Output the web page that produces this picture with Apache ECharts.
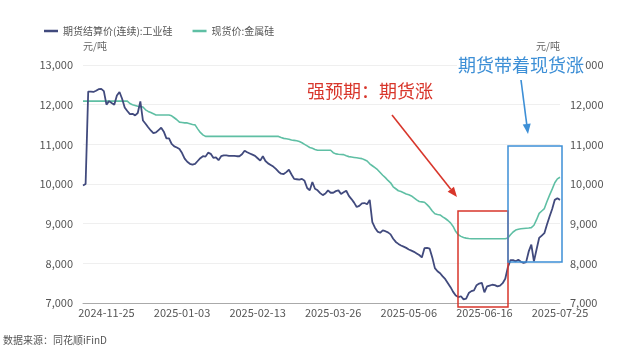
<!DOCTYPE html>
<html><head><meta charset="utf-8">
<script src="https://cdn.jsdelivr.net/npm/echarts@6/dist/echarts.min.js"></script>
<style>html,body{margin:0;padding:0;background:#fff}#c{width:640px;height:351px}</style>
</head><body><div id="c"></div>
<script>
// ---- data ----
const startDate = '2024-11-12';
const endDate = '2025-07-25';
const xTickLabels = ['2024-11-25','2025-01-03','2025-02-13','2025-03-26','2025-05-06','2025-06-16','2025-07-25'];
const futuresName = '期货结算价(连续):工业硅';
const spotName = '现货价:金属硅';
const yUnit = '元/吨';
const sourceText = '数据来源：同花顺iFinD';
const noteRed = '强预期：期货涨';
const noteBlue = '期货带着现货涨';

const futures = [
9960,10000,12330,12330,12320,12350,12390,12400,12340,12000,
12090,12040,12000,12230,12320,12150,11930,11840,11760,11770,
11730,11790,12080,11600,11520,11430,11350,11280,11300,11360,
11420,11320,11150,11150,11010,10950,10920,10880,10780,10640,
10560,10510,10490,10510,10580,10650,10700,10690,10790,10760,
10660,10670,10600,10700,10720,10720,10710,10710,10710,10700,
10700,10750,10840,10800,10770,10740,10710,10650,10590,10700,
10580,10520,10480,10440,10380,10310,10260,10250,10300,10360,
10240,10130,10120,10110,10130,10080,9900,9840,10050,9880,
9840,9770,9720,9760,9840,9780,9780,9820,9840,9750,
9790,9830,9700,9620,9530,9420,9450,9510,9520,9490,
9600,9040,8900,8800,8770,8830,8810,8780,8730,8620,
8540,8490,8450,8420,8390,8350,8320,8290,8250,8210,
8150,8380,8390,8370,8150,7880,7800,7750,7670,7600,
7500,7400,7280,7190,7150,7170,7090,7110,7250,7300,
7320,7450,7490,7510,7270,7420,7440,7460,7450,7420,
7440,7500,7610,7900,8080,8080,8050,8090,8040,8010,
8030,8300,8470,8050,8350,8640,8700,8760,8980,9180,
9370,9600,9640,9600
];
const spot = [
12090,12090,12090,12090,12090,12090,12090,12090,12090,12090,
12090,12090,12090,12090,12090,12090,12090,12090,12030,12000,
11980,11960,11950,11940,11870,11830,11800,11770,11740,11740,
11740,11740,11740,11740,11720,11670,11620,11560,11550,11540,
11540,11520,11500,11490,11390,11300,11240,11200,11200,11200,
11200,11200,11200,11200,11200,11200,11200,11200,11200,11200,
11200,11200,11200,11200,11200,11200,11200,11200,11200,11200,
11200,11200,11200,11200,11200,11200,11170,11150,11140,11130,
11110,11100,11090,11070,11040,11000,10960,10920,10900,10870,
10850,10850,10850,10850,10850,10850,10790,10760,10750,10745,
10740,10710,10690,10680,10670,10660,10650,10640,10610,10580,
10510,10460,10410,10360,10290,10220,10160,10090,10030,9930,
9880,9830,9810,9780,9750,9730,9700,9650,9600,9560,
9550,9540,9480,9410,9320,9250,9230,9220,9170,9130,
9080,9020,8930,8800,8720,8680,8650,8635,8625,8620,
8620,8620,8620,8620,8620,8620,8620,8620,8620,8620,
8620,8620,8620,8640,8720,8790,8840,8860,8870,8880,
8885,8890,8900,8960,9100,9260,9320,9380,9560,9720,
9870,10030,10130,10170
];
const yMin = 7000, yMax = 13000, yStep = 1000;

// ---- helpers ----
function weekdays(a, b) {
  const out = [];
  let d = new Date(a + 'T00:00:00Z');
  const e = new Date(b + 'T00:00:00Z');
  while (d <= e) {
    const w = d.getUTCDay();
    if (w !== 0 && w !== 6) out.push(d.toISOString().slice(0, 10));
    d = new Date(d.getTime() + 86400000);
  }
  return out;
}
const dates = weekdays(startDate, endDate);

function arrow(x1, y1, x2, y2, color) {
  const ang = Math.atan2(y2 - y1, x2 - x1);
  const L = 10, W = 4;
  const bx = x2 - L * Math.cos(ang), by = y2 - L * Math.sin(ang);
  const px = -Math.sin(ang) * W, py = Math.cos(ang) * W;
  return [
    { type: 'line', z: 100, shape: { x1: x1, y1: y1, x2: bx, y2: by }, style: { stroke: color, lineWidth: 1.6 } },
    { type: 'polygon', z: 100, shape: { points: [[x2, y2], [bx + px, by + py], [bx - px, by - py]] }, style: { fill: color } }
  ];
}

const FONT = '"Noto Sans CJK SC", "Noto Sans", sans-serif';
const RED = '#d8362b', BLUE = '#3d8fd6';
const fmt = v => v.toLocaleString('en-US');

const chart = echarts.init(document.getElementById('c'), null, { renderer: 'canvas' });
chart.setOption({
  animation: false,
  backgroundColor: '#fff',
  textStyle: { fontFamily: FONT },
  grid: { left: 83, right: 80, top: 65, bottom: 48 },
  legend: {
    left: 39, top: 21, icon: 'rect', itemWidth: 14, itemHeight: 2.5, itemGap: 20,
    textStyle: { fontSize: 10, color: '#555', fontFamily: FONT },
    data: [futuresName, spotName]
  },
  xAxis: {
    type: 'category', data: dates, boundaryGap: false,
    axisLine: { lineStyle: { color: '#aaa', width: 1 } },
    axisTick: { show: false },
    axisLabel: {
      interval: (i, v) => xTickLabels.includes(v),
      color: '#555', fontSize: 11, margin: 4, fontFamily: FONT
    },
    splitLine: { show: false }
  },
  yAxis: [
    {
      type: 'value', min: yMin, max: yMax, interval: yStep, position: 'left',
      name: yUnit, nameLocation: 'end', nameGap: 14,
      nameTextStyle: { align: 'left', color: '#666', fontSize: 10, fontFamily: FONT },
      axisLine: { show: false }, axisTick: { show: false },
      axisLabel: { formatter: fmt, color: '#555', fontSize: 11, margin: 10, fontFamily: FONT },
      splitLine: { lineStyle: { color: '#efefef' } }
    },
    {
      type: 'value', min: yMin, max: yMax, interval: yStep, position: 'right',
      name: yUnit, nameLocation: 'end', nameGap: 14,
      nameTextStyle: { align: 'right', color: '#666', fontSize: 10, fontFamily: FONT },
      axisLine: { show: false }, axisTick: { show: false },
      axisLabel: { formatter: fmt, color: '#555', fontSize: 11, margin: 10, fontFamily: FONT },
      splitLine: { show: false }
    }
  ],
  series: [
    {
      name: futuresName, type: 'line', data: futures, showSymbol: false, yAxisIndex: 0,
      lineStyle: { color: '#414a7d', width: 1.8 }, itemStyle: { color: '#414a7d' }, z: 3
    },
    {
      name: spotName, type: 'line', data: spot, showSymbol: false, yAxisIndex: 0,
      lineStyle: { color: '#5fbfa4', width: 1.6 }, itemStyle: { color: '#5fbfa4' }, z: 2
    }
  ],
  graphic: [
    { type: 'text', z: 100, x: 3, y: 340, style: { text: sourceText, fill: '#555', font: '10px ' + FONT, verticalAlign: 'middle' } },
    { type: 'text', z: 100, x: 307, y: 91, style: { text: noteRed, fill: RED, font: '18px ' + FONT, verticalAlign: 'middle' } },
    { type: 'text', z: 100, x: 457, y: 65, style: { text: noteBlue, fill: BLUE, font: '18px ' + FONT, verticalAlign: 'middle', backgroundColor: '#fff', padding: [0, 1] } },
    { type: 'rect', z: 100, shape: { x: 458, y: 211, width: 50, height: 96 }, style: { fill: 'none', stroke: RED, lineWidth: 1.5 } },
    { type: 'rect', z: 100, shape: { x: 508, y: 146, width: 54, height: 116 }, style: { fill: 'none', stroke: BLUE, lineWidth: 1.5 } }
  ].concat(arrow(392, 115, 457, 197, RED)).concat(arrow(521, 80, 528, 134, BLUE))
});
</script>
</body></html>
